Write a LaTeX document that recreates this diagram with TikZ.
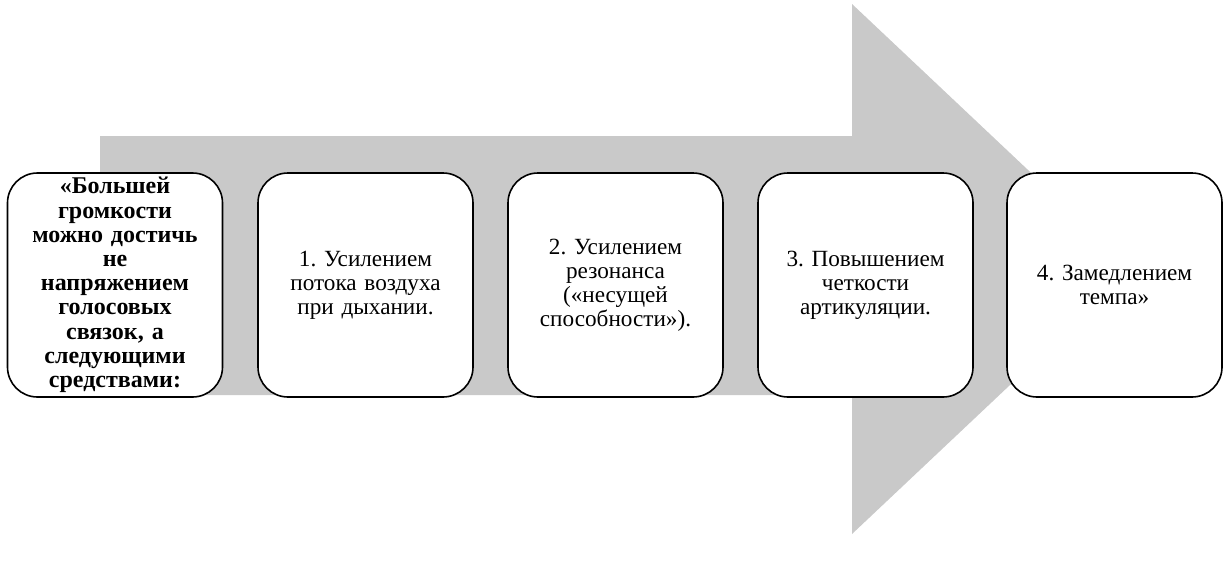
\documentclass[tikz,border=0pt]{standalone}
\usepackage{fontspec}
\setmainfont{Liberation Serif}
\frenchspacing
\definecolor{arrowgray}{RGB}{201,201,201}
\begin{document}
\begin{tikzpicture}[x=1pt,y=-1pt,
  stagebox/.style={draw=black, line width=1.6pt, fill=white, rounded corners=30pt,
    minimum width=215pt, minimum height=224pt, inner sep=2pt, align=center,
    text width=205pt, font=\frenchspacing\fontsize{23.2}{24}\selectfont},
  leadbox/.style={stagebox, font=\frenchspacing\bfseries\fontsize{24}{24.2}\selectfont}]
\useasboundingbox (0,0) rectangle (1223,562);
\fill[arrowgray] (100,136) -- (852,136) -- (852,4) -- (1133,269) -- (852,534) -- (852,395) -- (100,395) -- cycle;
\node[leadbox] (b0) at (115,285) {«Большей\\громкости\\можно достичь\\не\\напряжением\\голосовых\\связок, а\\следующими\\средствами:};
\node[stagebox] (b1) at (365.5,285) {1. Усилением\\потока воздуха\\при дыхании.};
\node[stagebox] (b2) at (615.5,285) {2. Усилением\\резонанса\\(«несущей\\способности»).};
\node[stagebox] (b3) at (865.5,285) {3. Повышением\\четкости\\артикуляции.};
\node[stagebox] (b4) at (1114.5,285) {4. Замедлением\\темпа»};
\end{tikzpicture}
\end{document}
